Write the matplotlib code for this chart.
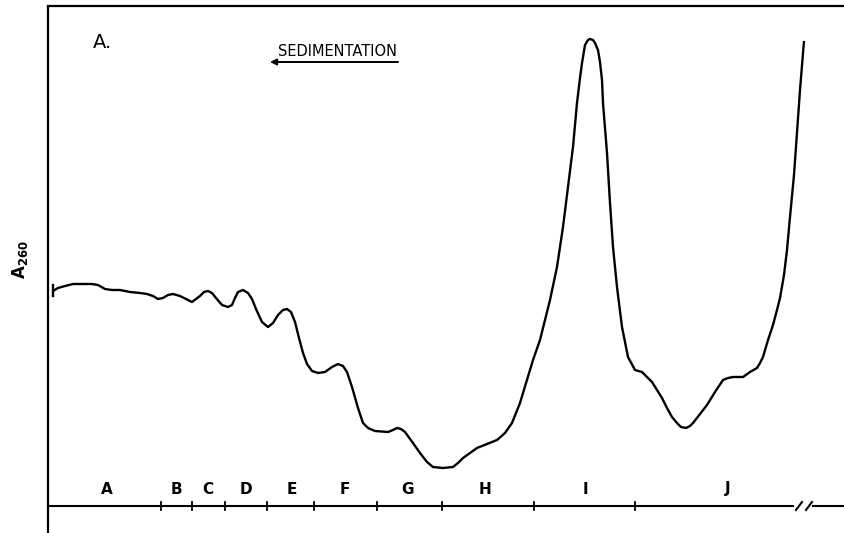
import matplotlib
matplotlib.use('Agg')
import matplotlib.pyplot as plt
from matplotlib import font_manager

# A260 trace along the gradient (chart distance units, arbitrary absorbance units)
dist = [5, 10, 17, 25, 37, 44, 50, 57, 64, 72, 82, 92, 99, 105, 110, 115, 120, 125,
        132, 138, 144, 148, 152, 156, 160, 164, 168, 174, 180, 184, 187, 190, 195,
        200, 204, 208, 214, 220, 225, 230, 235, 239, 243, 247, 251, 255, 259, 264,
        270, 277, 284, 290, 295, 299, 304, 310, 315, 320, 327, 340, 345, 349, 353,
        357, 365, 372, 379, 385, 395, 405, 410, 415, 422, 429, 439, 449, 457, 464,
        472, 479, 485, 492, 502, 509, 515, 520, 525, 529, 532, 534, 537, 540, 542,
        545, 547, 550, 552, 554, 555, 557, 559, 562, 565, 569, 574, 580, 587,
        594, 604, 609, 614, 619, 624, 629, 633, 638, 642, 645, 652, 659, 667,
        675, 680, 685, 695, 702, 709, 712, 715, 720, 725, 729, 732, 736, 739, 742,
        746, 749, 752, 756]
a260 = [215, 218, 220, 222, 222, 222, 221, 217, 216, 216, 214, 213, 212, 210, 207,
        208, 211, 212, 210, 207, 204, 207, 210, 214, 215, 213, 208, 201, 199, 201,
        208, 214, 216, 213, 207, 197, 184, 179, 183, 191, 196, 197, 194, 184, 168,
        153, 142, 135, 133, 134, 139, 142, 140, 134, 119, 98, 83, 78, 75, 74, 76, 78,
        77, 74, 63, 53, 44, 39, 38, 39, 43, 48, 53, 58, 62, 66, 73, 83,
        103, 126, 146, 166, 206, 239, 279, 319, 359, 403, 428, 443, 461, 466, 467,
        466, 463, 456, 444, 426, 403, 378, 353, 303, 259, 219, 179, 149, 136,
        134, 124, 116, 108, 98, 89, 83, 79, 78, 80, 83, 92, 101, 114, 126, 128, 129, 129,
        134, 138, 143, 149, 166, 181, 196, 208, 231, 256, 289, 331, 373, 416, 465]

# fraction boundaries and labels
bounds = [113, 144, 177, 219, 266, 329, 394, 486, 587]
frac_names = ['A', 'B', 'C', 'D', 'E', 'F', 'G', 'H', 'I', 'J']
frac_pos = [59, 128, 160, 198, 244, 297, 360, 437, 537, 680]
axis_break = [745, 765]
break_marks = [751, 761]

names = {f.name for f in font_manager.fontManager.ttflist}
narrow = 'Liberation Sans Narrow' if 'Liberation Sans Narrow' in names else 'DejaVu Sans'

fig = plt.figure(figsize=(8.44, 5.33), dpi=100)
ax = fig.add_axes([48 / 844, 0, 796 / 844, 527 / 533])
ax.set_xlim(0, 796)
ax.set_ylim(-27, 500)
for s in ['right', 'bottom']:
    ax.spines[s].set_visible(False)
for s in ['left', 'top']:
    ax.spines[s].set_linewidth(1.6)
ax.set_xticks([])
ax.set_yticks([])

ax.plot(dist, a260, color='black', lw=1.7, solid_capstyle='butt')
ax.plot([dist[0], dist[0]], [a260[0] - 5, a260[0] + 6], color='black', lw=1.7)

# fraction axis with break
ax.plot([0, axis_break[0]], [0, 0], color='black', lw=1.5)
ax.plot([axis_break[1], 796], [0, 0], color='black', lw=1.5)
for b in break_marks:
    ax.plot([b - 3, b + 3], [-4, 4], color='black', lw=1.5)
for b in bounds:
    ax.plot([b, b], [-4, 4], color='black', lw=1.3)
for name, p in zip(frac_names, frac_pos):
    ax.text(p, 17, name, ha='center', va='center', fontsize=11,
            fontweight='bold', family=narrow)

ax.text(45, 463, 'A.', ha='left', va='center', fontsize=14, family=narrow)
ax.text(230, 454, 'SEDIMENTATION', ha='left', va='center', fontsize=10.5, family=narrow)
ax.annotate('', xy=(222, 444), xytext=(350, 444),
            arrowprops=dict(arrowstyle='-|>', color='black', lw=1.4,
                            mutation_scale=9, shrinkA=0, shrinkB=0))

fig.text(20 / 844, 1 - 260 / 533, r'$\mathbf{A_{260}}$', rotation=90,
         ha='center', va='center', fontsize=12)

fig.savefig('out.png', dpi=100)
